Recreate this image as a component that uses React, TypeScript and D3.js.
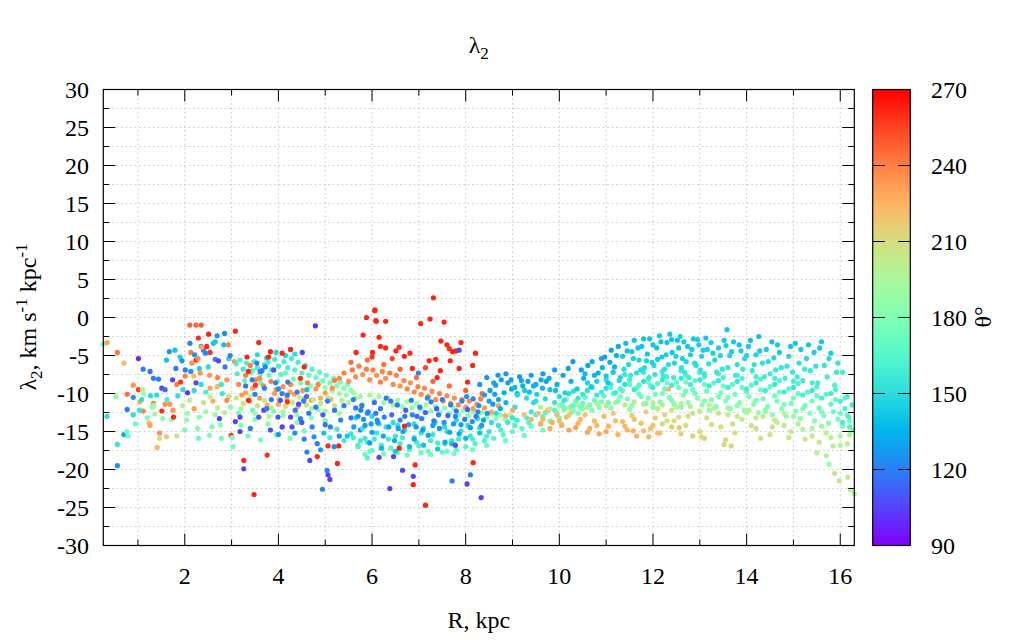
import * as d3 from "d3"

// [R kpc, lambda2, theta deg]
type Pt = [number, number, number]

const innerMix: Pt[] = [
  [0.26,-3.5,180],[0.34,-3.3,230],[0.56,-4.6,242],[0.34,-13.0,150],[0.56,-19.5,125],[0.56,-16.7,155],
  [0.53,-10.4,185],[0.70,-6.0,225],[0.77,-10.1,245],[0.77,-12.1,120],[0.70,-15.4,130],[0.76,-15.0,175],
  [0.79,-15.6,178],[0.90,-10.5,125],[0.90,-8.9,235],[0.90,-12.8,150],[1.01,-5.4,100],[1.01,-9.5,255],
  [1.04,-11.1,230],[1.08,-10.8,150],[1.10,-9.5,195],[1.12,-10.0,190],[1.11,-6.8,120],[1.11,-12.3,240],
  [1.03,-12.2,155],[1.26,-7.1,115],[1.27,-10.3,150],[1.24,-13.9,225],[1.26,-14.2,230],[1.33,-8.0,120],
  [1.33,-11.3,240],[1.34,-11.6,190],[1.30,-11.8,188],[1.36,-12.7,195],[1.44,-8.1,120],[1.41,-17.1,225],
  [1.46,-15.2,235],[1.46,-15.9,210],[1.51,-9.3,105],[1.51,-12.3,260],[1.53,-13.3,185],[1.58,-9.5,115],
  [1.58,-11.4,235],[1.61,-5.6,140],[1.67,-4.5,125],[1.61,-15.7,220],[1.68,-11.4,235],[1.72,-13.4,180],
  [1.76,-13.1,262],[1.79,-4.3,140],[1.74,-8.2,105],[1.81,-6.7,120],[1.83,-8.8,240],[1.83,-15.6,205],
  [1.90,-5.2,145],[1.94,-5.7,125],[1.91,-8.5,258],[1.96,-9.5,150],[2.01,-6.9,120],[2.01,-7.7,240],
  [2.06,-12.6,185],[2.04,-13.5,180],[2.06,-9.9,100],[2.11,-3.4,120],[2.13,-4.6,240],[2.11,-1.0,248],
  [2.24,-1.0,248],[2.35,-1.0,250],[2.15,-6.0,235],[2.13,-7.1,125],[2.19,-7.7,225],[2.24,-8.6,105],
  [2.21,-4.9,125],[2.24,-5.6,260],[2.28,-5.4,238],[2.29,-2.7,260],[2.31,-6.7,145],[2.33,-7.3,235],
  [2.35,-3.8,125],[2.40,-4.3,120],[2.27,-14.6,180],[2.29,-15.9,170],[2.31,-13.1,185],[2.36,-3.9,230],
  [2.44,-4.7,125],[2.47,-3.8,262],[2.51,-2.2,262],[2.54,-4.6,260],[2.53,-7.6,235],[2.54,-9.3,230],
  [2.54,-10.4,200],[2.53,-15.5,180],[2.58,-14.4,180],[2.61,-3.4,140],[2.65,-3.2,142],[2.69,-2.4,125],
  [2.65,-5.5,120],[2.72,-5.7,105],[2.70,-7.9,240],[2.69,-9.1,225],[2.74,-13.3,105],[2.76,-14.1,180],
  [2.78,-15.9,175],[2.83,-3.6,140],[2.85,-2.1,125],[2.86,-6.5,120],[2.93,-3.6,240],[2.94,-5.4,145],
  [2.97,-5.0,120],[2.90,-8.2,235],[2.94,-10.4,210],[2.90,-10.9,238],[2.98,-11.8,185],[2.99,-15.5,258],
  [3.01,-15.8,180],[3.03,-17.0,175],[3.08,-1.8,262],[3.08,-13.7,105],[3.06,-5.8,235],
  [1.40,-10.2,150],[1.62,-10.8,160],[1.85,-10.3,150],[1.95,-11.6,200],[2.10,-10.9,195],[2.20,-12.0,232],
  [2.40,-11.2,205],[2.45,-12.4,192],[2.60,-11.0,228],[2.80,-10.0,155],[2.70,-11.9,200],[2.20,-9.6,150],
  [1.75,-12.2,235],[2.45,-9.8,160],[1.20,-13.2,178],[0.95,-14.0,172],[2.00,-14.8,175],[2.65,-12.8,188],
  [2.85,-12.5,198],[2.35,-8.8,150],[2.50,-6.5,150],[2.78,-8.8,155],
]

const tealUpper: Pt[] = [
  [3.10,-6.1,160],[3.18,-5.6,162],[3.25,-6.8,158],[3.32,-6.0,160],[3.40,-7.2,162],[3.48,-5.8,158],
  [3.55,-6.6,160],[3.62,-7.4,165],[3.70,-6.2,158],[3.78,-5.9,160],[3.85,-6.9,162],[3.92,-5.5,158],
  [4.00,-6.4,160],[4.05,-7.5,165],[4.12,-5.8,158],[4.20,-6.6,160],[4.28,-5.4,158],[4.35,-6.9,163],
  [4.42,-5.9,160],[4.50,-7.3,165],[4.58,-6.3,162],[4.65,-7.6,168],[4.72,-6.8,165],[4.80,-7.9,170],
  [4.88,-7.2,168],[4.95,-8.3,172],[5.02,-7.6,170],[5.10,-8.6,175],[5.18,-8.0,172],[5.25,-9.0,178],
  [5.32,-8.5,176],[5.40,-9.3,180],[5.48,-8.8,178],[5.55,-9.6,182],[3.55,-4.9,150],[3.95,-4.6,148],
  [4.35,-4.8,150],[3.75,-5.3,145],[4.15,-5.0,145],
  [3.12,-7.4,160],[3.28,-8.3,165],[3.45,-7.0,168],[3.62,-8.6,170],[3.80,-7.6,168],[3.98,-8.4,172],
  [4.15,-7.3,170],[4.32,-8.1,175],[4.48,-8.6,178],[4.68,-9.0,180],[4.85,-8.7,178],[5.00,-9.2,182],
  [5.15,-9.6,185],[5.30,-10.0,188],[5.45,-10.2,190],[5.60,-9.9,188],[5.75,-10.4,192],
]

const blueScatter: Pt[] = [
  [3.54,-6.0,120],[3.65,-7.0,122],[3.72,-6.5,118],
  [3.44,-8.2,120],[3.61,-7.1,118],[3.90,-6.9,108],[3.94,-8.6,122],[4.04,-10.9,108],[4.08,-10.0,120],
  [4.19,-10.2,118],[4.26,-13.1,105],[4.29,-14.4,108],[4.36,-12.2,120],[4.43,-11.4,108],[4.47,-13.3,122],
  [4.54,-11.0,120],[4.61,-9.5,140],[4.65,-12.6,118],[4.72,-14.4,122],[4.76,-15.7,125],[4.83,-16.6,120],
  [4.90,-17.4,128],[4.97,-15.2,140],[5.11,-14.4,122],[5.19,-17.0,125],[5.33,-13.5,120],[5.47,-15.6,142],
  [5.61,-14.4,128],[5.76,-12.2,120],[5.90,-12.6,125],[6.11,-13.5,120],[3.58,-13.1,108],[3.69,-12.2,105],
  [3.83,-14.8,108],[3.99,-13.1,110],[4.08,-14.4,105],[3.30,-9.0,118],[3.50,-10.1,120],[3.70,-9.3,122],
  [3.85,-10.8,118],[4.00,-9.4,125],[4.20,-8.5,120],[4.40,-9.8,118],[4.60,-10.4,115],[4.80,-11.8,118],
  [4.95,-12.8,112],[5.05,-11.0,120],[5.20,-12.2,118],[5.40,-11.6,120],
  [3.40,-14.6,120],[3.75,-12.0,118],[4.00,-15.4,125],[4.35,-15.2,125],[4.55,-16.0,120],[4.50,-13.8,108],
  [5.00,-14.1,118],[5.30,-15.6,125],[5.55,-13.2,118],[5.75,-14.8,125],
]

const innerOrange: Pt[] = [
  [3.15,-8.8,238],[3.22,-10.2,232],[3.30,-7.6,240],[3.38,-11.0,235],[3.45,-9.3,230],[3.52,-8.2,238],
  [3.60,-10.6,232],[3.68,-9.0,236],[3.76,-11.5,228],[3.84,-8.4,240],[3.92,-10.0,234],[4.00,-11.4,230],
  [4.10,-9.1,236],[4.18,-10.6,228],[4.26,-8.8,238],[4.34,-10.1,232],[4.42,-11.7,228],[4.52,-9.6,234],
  [4.62,-8.6,240],[4.70,-10.9,230],[4.80,-9.4,235],[4.90,-10.6,228],[5.00,-9.9,232],[5.12,-10.8,228],
  [3.30,-9.9,232],[3.60,-8.0,238],[3.95,-9.5,236],[4.25,-9.8,232],[4.55,-10.7,230],[4.85,-8.8,238],
  [5.15,-9.3,236],[5.20,-8.3,240],
  [3.10,-10.6,205],[3.25,-11.3,208],[3.40,-10.4,200],[3.55,-11.6,210],[3.70,-10.9,205],[3.85,-11.9,208],
  [4.00,-10.7,202],[4.15,-11.7,210],[4.30,-11.2,205],[4.45,-10.5,200],[4.60,-11.5,208],[4.75,-10.8,202],
  [4.90,-11.3,205],[5.05,-10.5,198],[5.20,-11.6,205],[5.35,-10.9,198],[5.50,-11.2,200],[5.65,-10.6,195],
  [5.80,-11.4,200],
  [3.20,-12.0,195],[3.50,-12.6,192],[3.80,-13.0,190],[4.10,-12.4,192],[4.40,-12.8,190],[4.70,-12.0,195],
  [5.00,-12.3,192],[5.30,-12.6,190],
]

const innerGreen: Pt[] = [
  [3.20,-14.2,178],[3.35,-15.6,175],[3.50,-13.4,180],[3.62,-16.1,176],[3.78,-14.0,182],[3.95,-15.4,178],
  [4.10,-12.9,185],[4.25,-15.9,176],[4.40,-13.8,180],[4.55,-14.9,178],[4.70,-13.2,182],[4.85,-12.1,185],
  [5.00,-13.6,170],[5.10,-15.8,160],[5.25,-14.7,158],[5.40,-16.2,158],[5.55,-15.3,155],[5.70,-16.8,158],
  [5.85,-15.9,156],[3.15,-12.6,172],[3.45,-12.2,170],[3.90,-12.3,172],
]

const outliers: Pt[] = [
  [3.33,-5.2,262],[3.36,-7.1,262],[3.40,-6.3,240],[3.48,-23.3,262],[3.58,-3.3,262],[3.76,-18.1,260],
  [3.79,-5.2,262],[3.83,-4.5,262],[4.08,-4.7,262],[4.26,-4.2,262],[3.26,-18.8,260],[3.26,-19.9,105],
  [3.18,-13.1,105],[3.18,-15.0,105],[4.51,-4.6,105],[4.79,-1.1,100],[5.04,-20.1,120],[5.06,-20.7,105],
  [5.10,-21.3,105],[4.94,-22.6,120],[5.26,-19.2,262],[5.06,-16.9,260],[5.29,-16.9,262],[4.83,-18.3,262],
  [4.67,-18.8,105],[4.61,-17.7,120],[5.90,-18.5,165],[5.88,0.0,262],[6.06,0.9,262],[6.08,-0.4,262],
  [5.81,-2.3,262],[5.66,-4.6,262],[4.55,-6.5,262],[4.47,-8.0,260],[3.36,-10.9,262],[3.51,-8.9,258],
  [4.19,-11.1,260],
  [7.31,2.6,262],[6.06,1.0,262],[6.09,-0.5,262],[6.29,-0.5,262],[7.04,-0.8,262],[7.24,-0.2,262],
  [7.54,-0.6,262],[6.15,-2.6,262],[6.18,-3.8,260],[6.29,-4.0,262],[6.51,-4.4,262],[6.58,-3.9,258],
  [6.69,-5.1,262],[6.81,-4.7,260],[7.47,-3.1,262],[7.60,-3.6,262],[7.65,-4.1,260],[7.72,-4.5,262],
  [7.79,-4.4,262],[7.90,-3.3,262],[7.86,-6.7,262],[8.04,-8.5,262],[8.21,-4.7,262],[8.15,-6.3,262],
  [7.67,-5.7,262],[7.36,-5.5,262],[7.22,-5.7,262],[7.14,-6.6,255],[7.46,-7.0,262],[7.39,-7.9,262],
  [6.86,-6.7,262],[6.43,-5.4,255],[6.01,-4.6,262],[6.00,-5.2,258],[6.92,-19.4,262],[6.88,-22.0,262],
  [7.14,-24.7,262],[8.16,-19.1,262],[6.69,-14.3,262],[6.58,-17.2,262],
  [7.78,-16.8,108],[7.86,-4.3,108],[6.99,-7.3,122],[6.15,-18.4,105],[6.46,-18.3,105],[6.38,-22.5,105],
  [6.65,-20.1,105],[6.88,-20.9,105],[7.71,-21.5,120],[8.03,-21.9,105],[8.10,-20.7,118],[8.33,-23.7,105],
]

const orangeBand: Pt[] = [
  [5.30,-8.0,238],[5.40,-7.3,240],[5.50,-8.4,236],[5.58,-6.9,242],[5.65,-7.8,238],[5.72,-6.4,240],
  [5.80,-7.5,236],[5.88,-6.8,242],[5.95,-8.2,238],[6.02,-6.9,240],[6.10,-7.6,236],[6.18,-8.5,240],
  [6.22,-7.1,238],[6.29,-8.0,236],[6.38,-7.3,242],[6.45,-8.8,238],[6.52,-7.6,240],[6.60,-9.0,236],
  [6.68,-8.3,238],[6.75,-9.4,240],[6.82,-8.6,236],[6.90,-9.8,238],[6.98,-9.1,240],[7.05,-10.1,236],
  [7.12,-9.3,238],[7.20,-10.4,240],[7.28,-9.7,236],[7.36,-10.8,238],[7.44,-10.0,240],[7.52,-11.0,236],
  [7.60,-10.3,238],[7.68,-11.3,240],[7.76,-10.6,236],[7.84,-11.5,238],[7.92,-10.8,240],[8.00,-11.8,236],
  [8.08,-11.0,238],[8.16,-12.0,234],[8.24,-11.4,236],[8.32,-10.7,240],[8.40,-11.9,232],[5.55,-5.9,245],
  [5.90,-5.6,245],[6.25,-6.2,245],[6.60,-6.8,248],[6.95,-7.9,245],[7.30,-8.4,248],[7.65,-9.0,245],
  [8.00,-9.6,248],[8.35,-10.0,245],[8.55,-12.4,228],[8.70,-11.6,230],[8.85,-12.9,226],[9.00,-12.2,228],
]

const blueBand: Pt[] = [
  [5.60,-10.8,122],[5.70,-13.0,125],[5.78,-11.6,118],[5.85,-14.2,128],[5.92,-12.4,120],[6.00,-15.1,130],
  [6.05,-11.2,115],[6.12,-13.8,125],[6.18,-12.0,118],[6.24,-15.6,132],[6.30,-10.6,120],[6.36,-14.4,128],
  [6.42,-12.8,115],[6.48,-16.2,135],[6.54,-11.5,118],[6.60,-13.5,122],[6.66,-15.0,130],[6.72,-12.2,112],
  [6.78,-14.1,125],[6.84,-10.9,118],[6.90,-16.0,135],[6.96,-13.0,115],[7.02,-11.8,120],[7.08,-14.8,128],
  [7.14,-12.5,112],[7.20,-15.5,132],[7.26,-11.1,118],[7.32,-13.6,120],[7.38,-12.0,110],[7.44,-14.6,125],
  [7.50,-10.8,118],[7.56,-16.4,135],[7.62,-12.9,112],[7.68,-11.5,120],[7.74,-14.0,128],[7.80,-12.3,115],
  [7.86,-15.3,132],[7.92,-11.0,120],[7.98,-13.4,118],[8.04,-12.1,112],[8.10,-14.5,128],[8.16,-10.7,122],
  [8.22,-13.0,118],[8.28,-11.6,125],[8.34,-14.2,130],[8.40,-10.2,128],[8.46,-12.6,125],[8.52,-9.6,130],
  [8.58,-11.4,128],[8.64,-8.9,130],[8.70,-10.8,132],[8.76,-8.2,128],[8.82,-9.9,133],[5.95,-16.5,128],
  [6.20,-17.2,138],[6.50,-17.6,140],[6.80,-17.0,138],[7.10,-16.8,140],[7.40,-17.3,142],[7.70,-16.6,140],
  [8.00,-15.9,138],[8.30,-15.2,140],
  [5.65,-11.9,120],[5.82,-13.4,125],[5.98,-14.0,128],[6.08,-12.6,118],[6.26,-13.1,120],[6.40,-11.0,118],
  [6.56,-14.6,130],[6.70,-13.0,118],[6.86,-12.8,122],[6.94,-14.4,128],[7.06,-13.3,120],[7.18,-10.6,125],
  [7.30,-14.2,128],[7.42,-12.8,118],[7.54,-13.8,125],[7.66,-15.1,132],[7.78,-13.0,122],[7.90,-14.1,128],
  [8.02,-10.4,125],[8.14,-13.7,125],[8.26,-12.4,122],[8.38,-13.5,128],[8.50,-11.0,128],[8.62,-10.1,130],
  [8.74,-12.0,132],[8.86,-11.2,134],[8.98,-9.4,132],[9.10,-10.0,135],[9.22,-9.0,134],[9.36,-9.8,138],
  [9.50,-8.8,134],[9.64,-9.3,138],[9.78,-8.0,132],[9.92,-9.6,140],[8.90,-8.6,128],[9.15,-7.8,126],
  [9.40,-7.6,128],[9.65,-7.4,128],
]

const yellowMid: Pt[] = [
  [5.95,-10.2,195],[6.05,-10.9,190],[6.15,-10.4,195],[6.25,-11.2,188],[6.35,-10.6,192],[6.45,-11.5,186],
  [6.55,-10.9,190],[6.65,-11.7,185],[6.75,-11.1,190],[6.85,-11.9,186],[6.95,-11.3,190],[7.05,-12.1,184],
  [7.15,-11.5,188],[7.25,-12.3,184],[7.35,-11.7,188],[7.45,-12.5,182],[7.55,-11.9,186],[7.65,-12.6,182],
  [7.75,-12.0,186],[7.85,-12.8,182],[7.95,-12.2,185],[8.05,-12.9,180],[8.15,-12.4,184],[8.25,-13.0,180],
  [8.35,-12.5,184],[8.45,-13.1,182],[8.55,-12.7,185],[8.65,-13.3,182],[8.75,-12.8,188],[8.85,-13.4,185],
  [8.95,-12.9,190],[9.05,-13.5,188],
]

const tealLower: Pt[] = [
  [5.60,-15.8,158],[5.70,-17.0,162],[5.80,-14.6,155],[5.90,-16.4,160],[6.00,-17.5,165],[6.10,-15.2,155],
  [6.20,-16.8,160],[6.30,-14.4,152],[6.40,-17.2,165],[6.50,-15.6,156],[6.60,-16.6,160],[6.70,-14.8,152],
  [6.80,-17.4,168],[6.90,-15.8,156],[7.00,-16.9,162],[7.10,-14.6,152],[7.20,-17.6,170],[7.30,-15.4,155],
  [7.40,-16.5,160],[7.50,-17.7,170],[7.60,-15.0,152],[7.70,-16.2,158],[7.80,-17.4,168],[7.90,-14.9,152],
  [8.00,-17.0,165],[8.10,-15.6,155],[8.20,-16.6,162],[8.30,-14.5,150],[8.40,-16.2,162],[8.50,-15.0,155],
  [8.60,-15.9,165],[8.70,-14.2,152],[8.80,-15.4,165],[8.90,-13.8,155],[9.00,-15.0,168],[9.10,-13.5,158],
  [9.20,-14.6,170],[9.30,-13.2,160],[9.40,-14.3,172],[9.50,-12.8,162],[9.60,-14.0,172],[9.70,-12.5,165],
  [9.80,-13.6,174],[9.90,-12.2,165],[10.00,-13.2,176],[10.10,-11.9,168],[10.20,-12.9,178],[10.30,-11.6,168],
  [10.40,-12.6,178],[10.50,-11.3,170],[5.65,-13.2,150],[6.00,-13.0,148],[6.45,-13.8,150],[6.90,-14.0,148],
  [7.35,-13.8,150],[7.80,-13.5,148],[8.25,-13.3,150],[8.65,-12.6,150],[9.05,-11.8,152],[9.45,-11.2,150],
  [6.25,-17.9,172],[6.75,-18.1,175],[7.25,-18.0,175],[7.75,-17.9,174],[8.15,-17.4,172],[5.85,-18.0,172],
  [5.75,-16.2,158],[6.05,-16.0,158],[6.35,-16.0,158],[6.65,-15.8,158],[6.95,-16.4,160],[7.25,-16.2,158],
  [7.55,-16.6,160],[7.85,-16.0,158],[8.15,-16.0,160],[8.45,-15.6,160],[8.75,-14.8,160],[9.05,-14.2,162],
  [9.35,-13.8,164],[9.65,-13.0,166],[9.95,-12.6,168],[6.15,-14.0,150],[6.55,-14.2,150],[7.05,-15.2,152],
  [7.55,-14.4,150],[8.05,-14.2,150],[8.55,-13.8,152],[9.00,-13.2,154],[9.40,-12.4,155],
  [5.95,-17.6,170],[6.55,-17.8,172],[7.05,-17.8,172],[7.60,-17.6,172],[8.45,-16.8,172],[8.85,-16.2,172],
  [9.25,-15.5,172],[9.65,-14.8,174],[10.05,-14.0,176],
]

const upperArc: Pt[] = [
  [8.30,-8.8,128],[8.45,-7.9,125],[8.60,-8.6,130],[8.69,-7.6,128],[8.86,-7.4,126],[8.97,-8.2,130],
  [9.05,-9.2,138],[9.19,-8.3,130],[9.26,-9.6,142],[9.33,-8.4,128],[9.45,-9.0,135],[9.52,-10.1,145],
  [9.61,-8.2,130],[9.72,-8.4,132],[9.80,-9.5,140],[9.90,-6.9,128],[9.95,-8.8,135],[10.08,-7.6,130],
  [10.12,-9.9,145],[10.19,-6.7,128],[10.25,-8.4,136],[10.29,-5.8,126],[10.38,-9.4,142],[10.47,-6.9,130],
  [10.52,-8.0,136],[10.61,-6.3,130],[10.68,-9.1,142],[10.75,-7.6,136],[10.83,-7.3,134],[10.90,-5.4,130],
  [10.97,-5.2,128],[11.04,-8.6,142],[11.11,-4.3,130],[11.18,-6.5,135],[11.26,-3.8,132],[11.30,-7.9,145],
  [11.35,-5.1,142],[11.42,-3.4,140],[11.48,-6.2,147],[11.55,-4.5,142],[11.60,-3.0,140],[11.65,-7.3,152],
  [11.70,-5.6,145],[11.76,-3.8,140],[11.82,-6.6,150],[11.88,-4.8,142],[11.93,-2.8,140],[11.98,-5.9,145],
  [12.04,-7.5,155],[12.08,-4.0,140],[12.14,-2.4,142],[12.19,-5.2,143],[12.25,-6.8,152],[12.30,-3.3,140],
  [12.36,-2.2,142],[12.41,-4.6,142],[12.46,-6.0,147],[12.52,-3.0,140],[12.58,-2.5,143],[12.63,-5.4,145],
  [12.68,-7.2,155],[12.74,-3.8,142],[12.80,-4.9,143],[12.86,-2.8,143],[12.92,-6.3,150],[12.98,-3.6,143],
  [13.04,-5.1,145],[13.10,-7.4,156],[13.16,-4.2,144],[13.24,-3.3,143],[13.32,-5.6,147],[13.40,-4.0,144],
  [13.48,-6.8,154],[13.58,-1.6,142],[13.56,-3.7,143],[13.64,-5.0,146],[13.72,-3.2,142],[13.80,-6.2,152],
  [13.88,-4.4,144],[13.96,-5.4,148],[14.04,-3.8,143],[14.12,-7.0,155],[14.20,-4.9,146],[14.26,-2.5,140],
  [14.34,-6.0,152],[14.42,-4.2,144],[14.50,-7.4,156],[14.58,-5.3,148],[14.66,-3.6,142],[14.74,-6.6,154],
  [14.82,-8.0,158],[14.90,-5.1,148],[14.98,-7.2,156],[15.04,-3.4,141],[15.12,-6.0,152],[15.20,-8.3,158],
  [15.28,-5.4,148],[15.36,-7.0,156],[15.44,-4.6,144],[15.52,-8.6,160],[15.60,-3.2,141],[15.66,-6.3,154],
  [15.72,-7.8,158],[15.80,-4.7,144],[15.88,-8.9,162],[15.95,-6.0,154],[16.05,-7.2,160],
]

const arcFill: Pt[] = [
  [10.55,-7.4,138],[10.70,-5.8,132],[10.80,-8.4,144],[10.92,-6.6,136],[11.00,-7.7,142],[11.08,-5.9,134],
  [11.15,-7.2,140],[11.22,-5.0,134],[11.28,-8.3,148],[11.38,-6.8,150],[11.45,-4.4,140],[11.52,-7.6,154],
  [11.58,-5.4,143],[11.68,-4.0,140],[11.74,-6.9,150],[11.80,-2.8,140],[11.86,-5.7,145],[11.92,-7.9,156],
  [12.00,-3.6,140],[12.02,-6.3,147],[12.10,-5.5,143],[12.17,-3.2,140],[12.22,-7.7,156],[12.28,-4.9,143],
  [12.33,-6.2,150],[12.40,-2.9,140],[12.44,-7.9,158],[12.49,-5.1,145],[12.55,-4.0,142],[12.61,-6.6,152],
  [12.66,-3.2,142],[12.71,-5.8,147],[12.77,-7.9,158],[12.83,-4.2,143],[12.89,-6.0,150],[12.95,-2.9,142],
  [13.01,-6.9,154],[13.07,-4.3,143],[13.13,-2.7,142],[13.19,-6.1,152],[13.28,-4.7,145],[13.36,-7.2,156],
  [13.44,-5.0,147],[13.52,-3.0,142],[13.60,-6.6,154],[13.68,-4.5,143],[13.76,-7.6,158],[13.84,-3.6,141],
  [13.92,-6.8,156],[14.00,-5.0,145],[14.08,-3.0,140],[14.16,-6.2,152],[14.28,-4.4,143],[14.38,-7.8,158],
  [14.46,-5.8,150],[14.54,-3.2,140],[14.62,-6.9,156],[14.70,-4.6,143],[14.86,-6.4,154],[14.94,-3.8,141],
  [15.08,-7.8,158],[15.16,-4.2,142],[15.24,-6.8,156],[15.32,-3.6,141],[15.48,-6.4,154],[15.56,-4.0,142],
  [15.76,-5.4,148],[15.92,-7.2,156],
]

const cyanBand: Pt[] = [
  [10.00,-10.4,150],[10.20,-10.0,152],[10.40,-10.6,155],[10.60,-9.6,152],[10.80,-10.2,155],[11.00,-9.3,152],
  [11.20,-9.9,156],[11.40,-8.8,152],[11.60,-9.5,156],[11.80,-8.4,152],[12.00,-9.2,158],[12.20,-8.2,154],
  [12.40,-8.9,158],[12.60,-8.0,154],[12.80,-8.8,158],[13.00,-8.2,155],[13.20,-9.0,158],[13.40,-8.3,155],
  [13.60,-9.2,158],[13.80,-8.4,155],[14.00,-9.4,158],[14.20,-8.6,155],[14.40,-9.6,158],[14.60,-8.8,155],
  [14.80,-9.8,158],[15.00,-9.2,155],[15.20,-10.2,158],[15.40,-9.6,155],[15.60,-10.6,160],[15.80,-10.0,158],
  [16.00,-11.0,160],[16.15,-10.4,158],[16.10,-12.0,160],[16.18,-13.1,162],[16.25,-11.5,160],[16.05,-13.8,160],
  [16.20,-14.4,162],
  [9.10,-10.2,148],[9.30,-10.6,150],[9.50,-11.0,152],[9.70,-10.7,150],[9.90,-11.2,154],[10.10,-10.9,155],
  [10.30,-9.7,152],[10.50,-10.1,156],[10.70,-9.2,154],[10.90,-9.8,158],[11.10,-8.8,160],[11.30,-9.4,164],
  [11.50,-8.2,160],[11.70,-8.9,166],[11.90,-8.0,162],[12.10,-8.7,166],[12.30,-7.8,162],[12.50,-8.5,168],
  [12.70,-7.6,162],[12.90,-8.3,168],[13.10,-7.8,162],[13.30,-8.6,168],[13.50,-7.9,162],[13.70,-8.8,168],
  [13.90,-8.0,163],[14.10,-8.9,168],[14.30,-8.1,163],[14.50,-9.1,168],[14.70,-8.3,163],[14.90,-9.4,168],
  [15.10,-8.7,163],[15.30,-9.8,168],[15.50,-9.1,163],[15.70,-10.1,166],[15.90,-9.5,163],[16.10,-10.6,165],
  [10.60,-8.6,146],[11.00,-8.2,150],[11.40,-7.5,155],[11.80,-7.2,158],[12.20,-7.1,158],[12.60,-7.0,158],
  [13.00,-7.2,160],[13.40,-7.4,160],[13.80,-7.6,160],[14.20,-7.8,160],[14.60,-8.0,160],[15.00,-8.4,160],
  [15.40,-8.6,160],
]

const greenBand: Pt[] = [
  [10.05,-11.4,172],[10.15,-10.8,170],[10.25,-11.7,175],[10.35,-11.0,172],[10.45,-11.9,176],[10.55,-10.5,168],
  [10.65,-11.5,175],[10.75,-10.9,172],[10.85,-11.8,178],[10.95,-10.3,168],[11.05,-11.2,175],[11.15,-10.0,170],
  [11.25,-11.0,176],[11.35,-9.6,168],[11.45,-10.7,176],[11.55,-11.6,180],[11.65,-9.3,170],[11.75,-10.4,176],
  [11.85,-11.3,180],[11.95,-9.0,170],[12.05,-10.1,176],[12.15,-11.1,180],[12.25,-9.4,172],[12.35,-10.5,178],
  [12.45,-11.4,182],[12.55,-9.2,172],[12.65,-10.2,178],[12.75,-11.2,182],[12.85,-9.5,174],[12.95,-10.6,180],
  [13.05,-11.5,184],[13.15,-9.7,174],[13.25,-10.8,180],[13.35,-11.7,184],[13.45,-9.9,175],[13.55,-11.0,180],
  [13.65,-12.0,184],[13.75,-10.1,176],[13.85,-11.2,180],[13.95,-12.2,185],[14.05,-10.4,176],[14.15,-11.4,182],
  [14.25,-12.5,185],[14.35,-10.7,176],[14.45,-11.7,182],[14.55,-12.8,185],[14.65,-11.0,176],[14.75,-12.0,182],
  [14.85,-13.0,185],[14.95,-11.3,176],[15.05,-12.3,180],[15.15,-13.3,184],[15.25,-11.6,175],[15.35,-12.6,180],
  [15.45,-13.6,182],[15.55,-11.9,172],[15.65,-12.9,178],[15.75,-13.9,180],[15.85,-12.4,170],[15.95,-13.4,175],
  [16.05,-14.3,178],[16.15,-12.8,168],[16.25,-14.8,172],
  [10.10,-12.1,178],[10.30,-12.3,180],[10.50,-12.0,180],[10.70,-12.2,182],[10.90,-11.1,176],[11.10,-11.9,182],
  [11.30,-10.4,174],[11.50,-12.1,184],[11.70,-10.0,172],[11.90,-10.6,176],[12.00,-11.8,184],[12.20,-10.0,174],
  [12.40,-10.9,178],[12.60,-11.8,184],[12.70,-9.7,172],[12.90,-10.0,174],[13.10,-11.0,180],[13.20,-12.2,186],
  [13.40,-10.4,176],[13.60,-10.5,178],[13.80,-11.6,182],[14.00,-9.8,172],[14.20,-10.9,178],[14.40,-12.2,184],
  [14.60,-10.3,174],[14.80,-11.4,180],[15.00,-10.6,174],[15.20,-12.0,180],[15.40,-11.0,172],[15.60,-12.4,178],
  [15.80,-11.4,168],[16.00,-12.6,172],[16.20,-13.6,175],
  [11.10,-9.2,168],[11.50,-8.8,170],[11.90,-8.5,172],[12.30,-8.6,172],[12.70,-8.5,172],[13.10,-8.8,172],
  [13.50,-9.0,172],[13.90,-9.2,172],[14.30,-9.5,172],[14.70,-9.8,172],[15.10,-10.0,170],[15.50,-10.3,170],
  [15.90,-10.8,168],
]

const yellowBand: Pt[] = [
  [9.55,-12.6,222],[9.65,-13.4,225],[9.75,-12.2,220],[9.85,-13.8,228],[9.95,-12.8,222],[10.05,-14.2,228],
  [10.15,-13.1,224],[10.25,-12.5,220],[10.35,-14.5,230],[10.45,-13.4,224],[10.55,-12.8,220],[10.65,-14.6,228],
  [10.75,-13.6,224],[10.85,-15.3,230],[10.95,-13.0,222],[11.05,-14.3,226],[11.15,-12.6,218],[11.25,-15.4,228],
  [11.35,-13.7,222],[11.45,-14.8,226],[11.55,-12.9,216],[11.65,-15.6,226],[11.75,-13.9,220],[11.85,-12.4,214],
  [11.95,-14.6,222],[12.05,-13.2,215],[12.15,-15.2,222],[12.25,-12.8,212],[12.40,-14.4,218],[12.55,-13.1,210],
  [9.25,-12.8,222],[9.40,-13.4,226],[9.60,-14.0,228],[9.80,-14.6,228],[10.00,-13.6,224],[10.20,-14.8,230],
  [10.40,-13.9,226],[10.60,-15.1,230],[10.80,-14.2,226],[11.00,-15.0,228],[11.20,-13.6,222],[11.40,-14.3,224],
  [11.60,-13.4,220],[11.80,-14.9,224],[12.00,-14.2,220],
  [12.10,-12.0,205],[12.30,-13.6,208],[12.50,-11.8,202],[12.70,-14.2,208],[12.85,-12.6,204],[13.00,-15.0,210],
  [13.15,-13.2,205],[13.30,-12.0,200],[13.45,-14.4,208],[13.60,-12.8,202],[13.75,-15.2,210],[13.90,-13.4,204],
  [14.05,-12.2,198],[14.20,-14.6,206],[14.35,-13.0,200],[14.50,-15.4,206],[14.65,-13.8,200],[14.80,-12.6,196],
  [14.95,-15.0,202],[15.10,-14.0,198],[15.25,-16.0,204],[15.40,-14.6,196],[15.55,-16.4,202],[15.70,-15.2,196],
  [15.85,-16.9,200],[16.00,-15.6,194],[16.15,-16.6,198],[13.10,-15.9,215],[13.55,-16.1,212],[12.85,-15.6,218],
  [14.30,-15.9,210],[12.60,-15.3,215],[11.91,-15.7,226],[11.58,-14.9,228],[12.10,-15.2,224],[13.03,-15.7,212],
  [13.52,-16.7,214],[13.67,-16.9,212],[12.56,-14.5,218],[12.33,-9.4,225],
  [9.60,-11.8,200],[9.80,-12.0,205],[10.00,-11.6,200],[10.20,-11.9,205],[10.40,-11.5,200],[10.60,-11.8,205],
  [10.80,-11.3,200],[11.00,-11.6,205],[11.20,-11.2,200],[11.40,-11.5,205],[11.60,-11.1,200],[11.80,-11.4,205],
  [12.00,-11.2,200],[12.20,-11.5,204],[12.40,-12.2,206],[12.60,-11.3,200],[12.80,-11.7,202],[13.00,-12.3,205],
  [13.20,-11.5,198],[13.40,-12.6,204],[13.60,-11.9,198],[13.80,-13.0,204],[14.00,-12.5,200],[14.20,-13.2,202],
  [14.40,-12.4,196],[14.60,-13.5,202],[14.80,-14.2,204],[15.00,-13.0,196],[15.20,-14.7,200],[15.40,-15.6,202],
  [15.60,-14.3,196],[15.80,-15.8,198],[16.00,-16.8,200],[16.20,-15.4,194],
  [12.20,-14.0,212],[12.45,-13.6,210],[12.75,-13.0,208],[13.25,-14.1,210],[13.70,-14.0,208],[14.10,-14.2,208],
  [14.55,-14.4,206],[14.90,-15.8,206],
]

const outerTail: Pt[] = [
  [15.76,-19.3,185],[15.88,-20.5,205],[15.98,-21.5,205],[16.16,-21.0,205],[16.22,-22.7,198],
  [16.30,-23.2,190],[15.50,-17.8,198],[15.70,-18.2,200],
]

const groups = [
  innerMix, tealUpper, innerGreen, innerOrange, blueScatter, yellowMid, tealLower, orangeBand,
  blueBand, yellowBand, greenBand, cyanBand, arcFill, upperArc, outerTail, outliers,
]

const xTicks = [2, 4, 6, 8, 10, 12, 14, 16]
const yTicks = [-30, -25, -20, -15, -10, -5, 0, 5, 10, 15, 20, 25, 30]
const cbTicks = [90, 120, 150, 180, 210, 240, 270]

// gnuplot "rainbow" palette (rgbformulae 33,13,10)
function rainbow(t: number) {
  const c = (v: number) => Math.round(255 * Math.max(0, Math.min(1, v)))
  const r = Math.abs(2 * t - 0.5)
  const g = Math.sin(Math.PI * t)
  const b = Math.cos((Math.PI * t) / 2)
  return `rgb(${c(r)},${c(g)},${c(b)})`
}

const W = 1024
const H = 640
const left = 103.3
const right = 854.3
const top = 89.5
const bottom = 545.5
const cbL = 872.7
const cbR = 910.3
const font = "'Liberation Serif', 'Times New Roman', serif"
const fs = 24

export default function App() {
  const x = d3.scaleLinear().domain([0.26, 16.3]).range([left, right])
  const y = d3.scaleLinear().domain([-30, 30]).range([bottom, top])
  const th = d3.scaleLinear().domain([90, 270]).range([0, 1])
  const cb = d3.scaleLinear().domain([90, 270]).range([bottom, top])

  const xMinor = d3.range(1, 16, 2)
  const yMinor = d3.range(-27.5, 30, 5)
  const gridX = [...xTicks, ...xMinor].filter((v) => x(v) > left + 1 && x(v) < right - 1)
  const gridY = [...yTicks, ...yMinor].filter((v) => y(v) > top + 1 && y(v) < bottom - 1)
  const stops = d3.range(0, 1.0001, 0.05)
  const pts = groups.flat()

  return (
    <svg width={W} height={H} style={{ position: "absolute", left: 0, top: 0, background: "#fff" }}
      fontFamily={font} fontSize={fs}>
      <defs>
        <linearGradient id="pal" x1="0" y1="1" x2="0" y2="0">
          {stops.map((s) => (
            <stop key={s} offset={s} stopColor={rainbow(s)} />
          ))}
        </linearGradient>
      </defs>
      <rect width={W} height={H} fill="#fff" />

      {/* grid */}
      <g stroke="#c8c8c8" strokeWidth={1} strokeDasharray="1.5,3">
        {gridX.map((v) => (
          <line key={"gx" + v} x1={x(v)} x2={x(v)} y1={top} y2={bottom} />
        ))}
        {gridY.map((v) => (
          <line key={"gy" + v} x1={left} x2={right} y1={y(v)} y2={y(v)} />
        ))}
      </g>

      {/* points */}
      <g>
        {pts.map((p, i) => (
          <circle key={i} cx={x(p[0])} cy={y(p[1])} r={2.6} fill={rainbow(th(p[2]))} />
        ))}
      </g>

      {/* ticks */}
      <g stroke="#000" strokeWidth={1}>
        {xTicks.map((v) => (
          <g key={"xt" + v}>
            <line x1={x(v)} x2={x(v)} y1={bottom} y2={bottom - 12} />
            <line x1={x(v)} x2={x(v)} y1={top} y2={top + 12} />
          </g>
        ))}
        {xMinor.map((v) => (
          <g key={"xm" + v}>
            <line x1={x(v)} x2={x(v)} y1={bottom} y2={bottom - 6} />
            <line x1={x(v)} x2={x(v)} y1={top} y2={top + 6} />
          </g>
        ))}
        {yTicks.map((v) => (
          <g key={"yt" + v}>
            <line x1={left} x2={left + 12} y1={y(v)} y2={y(v)} />
            <line x1={right} x2={right - 12} y1={y(v)} y2={y(v)} />
          </g>
        ))}
        {yMinor.map((v) => (
          <g key={"ym" + v}>
            <line x1={left} x2={left + 6} y1={y(v)} y2={y(v)} />
            <line x1={right} x2={right - 6} y1={y(v)} y2={y(v)} />
          </g>
        ))}
      </g>
      <rect x={left} y={top} width={right - left} height={bottom - top} fill="none" stroke="#000" strokeWidth={1.2} />

      {/* tick labels */}
      {xTicks.map((v) => (
        <text key={"xl" + v} x={x(v)} y={584} textAnchor="middle">{v}</text>
      ))}
      {yTicks.map((v) => (
        <text key={"yl" + v} x={89} y={y(v) + 8} textAnchor="end">{v}</text>
      ))}

      {/* colour box */}
      <rect x={cbL} y={top} width={cbR - cbL} height={bottom - top} fill="url(#pal)" stroke="#000" strokeWidth={1.2} />
      <g stroke="#000" strokeWidth={1}>
        {cbTicks.slice(1, -1).map((v) => (
          <g key={"ct" + v}>
            <line x1={cbL} x2={cbL + 12} y1={cb(v)} y2={cb(v)} />
            <line x1={cbR} x2={cbR - 12} y1={cb(v)} y2={cb(v)} />
          </g>
        ))}
      </g>
      {cbTicks.map((v) => (
        <text key={"cl" + v} x={931} y={cb(v) + 8}>{v}</text>
      ))}
      <text transform="translate(991,317) rotate(-90)" textAnchor="middle">θ°</text>

      {/* titles */}
      <text x={(left + right) / 2} y={53} textAnchor="middle">
        λ<tspan fontSize={17} dy={6}>2</tspan>
      </text>
      <text x={(left + right) / 2} y={628} textAnchor="middle">R, kpc</text>
      <text transform="translate(36,317) rotate(-90)" textAnchor="middle">
        λ<tspan fontSize={17} dy={6}>2</tspan>
        <tspan dy={-6}>, km s</tspan>
        <tspan fontSize={17} dy={-9}>-1</tspan>
        <tspan dy={9}> kpc</tspan>
        <tspan fontSize={17} dy={-9}>-1</tspan>
      </text>
    </svg>
  )
}
